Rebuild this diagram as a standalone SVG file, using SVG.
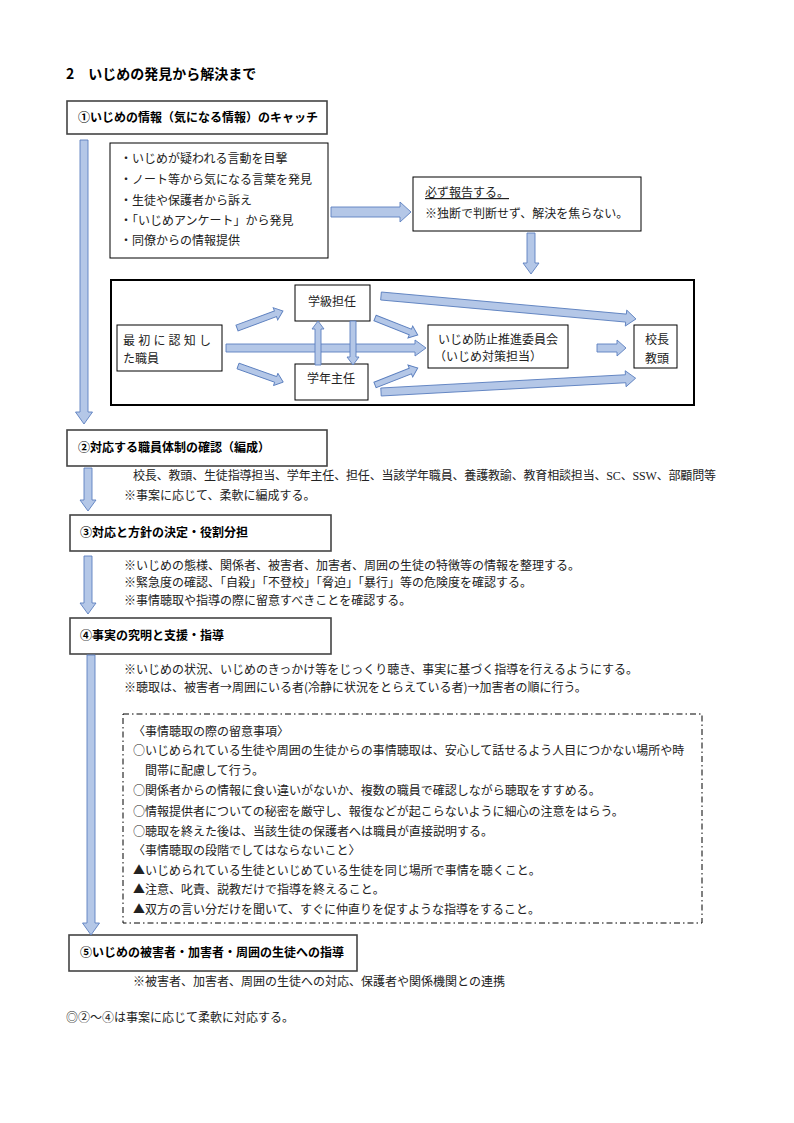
<svg xmlns="http://www.w3.org/2000/svg" width="794" height="1123" viewBox="0 0 794 1123">
<style>
.t{font-family:"Noto Sans CJK JP","Liberation Serif",serif;font-size:12px;fill:#222}
.l{font-family:"Liberation Serif",serif}
.h{font-family:"Noto Sans CJK JP","Liberation Sans",sans-serif;font-size:12px;font-weight:bold;fill:#000}
.hb{fill:#fff;stroke:#444;stroke-width:1.6}
.b{fill:#fff;stroke:#000;stroke-width:1}
.ar{fill:#b4c7e7;stroke:#5b7fbf;stroke-width:0.9}
</style>
<rect width="794" height="1123" fill="#fff"/>
<text class="h" x="66" y="79" style="font-size:14px">2　いじめの発見から解決まで</text>

<g id="n1"><rect class="hb" x="67" y="101" width="260" height="33"/><text class="h" x="78" y="122">①いじめの情報（気になる情報）のキャッチ</text></g>

<g id="list"><rect class="b" x="110" y="143" width="218" height="115"/>
<text class="t" x="120" y="163">・いじめが疑われる言動を目撃</text>
<text class="t" x="120" y="184">・ノート等から気になる言葉を発見</text>
<text class="t" x="120" y="205">・生徒や保護者から訴え</text>
<text class="t" x="120" y="225">・「いじめアンケート」から発見</text>
<text class="t" x="120" y="245">・同僚からの情報提供</text></g>

<g id="report"><rect class="b" x="413" y="177" width="228" height="54"/>
<text class="t" x="425" y="197" text-decoration="underline">必ず報告する。</text>
<text class="t" x="425" y="218">※独断で判断せず、解決を焦らない。</text></g>

<rect x="111" y="280" width="583" height="125" fill="none" stroke="#000" stroke-width="2"/>

<g id="gakkyu"><rect class="b" x="295" y="285" width="75" height="36"/><text class="t" x="332" y="306" text-anchor="middle">学級担任</text></g>
<g id="saisho"><rect class="b" x="117" y="325" width="105" height="46"/><text class="t" x="123" y="345" textLength="88" lengthAdjust="spacing">最初に認知し</text><text class="t" x="123" y="363">た職員</text></g>
<g id="gakunen"><rect class="b" x="295" y="364" width="73" height="36"/><text class="t" x="331" y="383" text-anchor="middle">学年主任</text></g>
<g id="iinkai"><rect class="b" x="428" y="325" width="140" height="43"/><text class="t" x="438" y="344">いじめ防止推進委員会</text><text class="t" x="434" y="361">（いじめ対策担当）</text></g>
<g id="kocho"><rect class="b" x="634" y="325" width="43" height="43"/><text class="t" x="645" y="344">校長</text><text class="t" x="645" y="363">教頭</text></g>

<g id="n2"><rect class="hb" x="67" y="430" width="260" height="36"/><text class="h" x="78" y="452">②対応する職員体制の確認（編成）</text></g>
<text class="t" x="133" y="480" textLength="583" lengthAdjust="spacing">校長、教頭、生徒指導担当、学年主任、担任、当該学年職員、養護教諭、教育相談担当、<tspan class="l">SC</tspan>、<tspan class="l">SSW</tspan>、部顧問等</text>
<text class="t" x="124" y="500">※事案に応じて、柔軟に編成する。</text>

<g id="n3"><rect class="hb" x="70" y="515" width="261" height="36"/><text class="h" x="80" y="537">③対応と方針の決定・役割分担</text></g>
<text class="t" x="124" y="570">※いじめの態様、関係者、被害者、加害者、周囲の生徒の特徴等の情報を整理する。</text>
<text class="t" x="124" y="587">※緊急度の確認、「自殺」「不登校」「脅迫」「暴行」等の危険度を確認する。</text>
<text class="t" x="124" y="605">※事情聴取や指導の際に留意すべきことを確認する。</text>

<g id="n4"><rect class="hb" x="70" y="618" width="261" height="36"/><text class="h" x="80" y="640">④事実の究明と支援・指導</text></g>
<text class="t" x="124" y="674">※いじめの状況、いじめのきっかけ等をじっくり聴き、事実に基づく指導を行えるようにする。</text>
<text class="t" x="124" y="692">※聴取は、被害者→周囲にいる者(冷静に状況をとらえている者)→加害者の順に行う。</text>

<g id="notes"><rect x="123" y="714" width="579" height="209" fill="none" stroke="#000" stroke-width="1" stroke-dasharray="6,3,1.5,3"/>
<text class="t" x="133" y="736">〈事情聴取の際の留意事項〉</text>
<text class="t" x="133" y="755">○いじめられている生徒や周囲の生徒からの事情聴取は、安心して話せるよう人目につかない場所や時</text>
<text class="t" x="133" y="775">　間帯に配慮して行う。</text>
<text class="t" x="133" y="795">○関係者からの情報に食い違いがないか、複数の職員で確認しながら聴取をすすめる。</text>
<text class="t" x="133" y="816">○情報提供者についての秘密を厳守し、報復などが起こらないように細心の注意をはらう。</text>
<text class="t" x="133" y="836">○聴取を終えた後は、当該生徒の保護者へは職員が直接説明する。</text>
<text class="t" x="133" y="855">〈事情聴取の段階でしてはならないこと〉</text>
<text class="t" x="133" y="875">▲いじめられている生徒といじめている生徒を同じ場所で事情を聴くこと。</text>
<text class="t" x="133" y="894">▲注意、叱責、説教だけで指導を終えること。</text>
<text class="t" x="133" y="914">▲双方の言い分だけを聞いて、すぐに仲直りを促すような指導をすること。</text></g>

<g id="n5"><rect class="hb" x="69" y="935" width="288" height="36"/><text class="h" x="80" y="957">⑤いじめの被害者・加害者・周囲の生徒への指導</text></g>
<text class="t" x="133" y="986">※被害者、加害者、周囲の生徒への対応、保護者や関係機関との連携</text>
<text class="t" x="66" y="1022">◎②～④は事案に応じて柔軟に対応する。</text>

<g id="connectors">
<polygon class="ar" transform="translate(84,140) rotate(90)" points="0,-4 272,-4 272,-8.5 284,0 272,8.5 272,4 0,4"/>
<polygon class="ar" transform="translate(331,212)" points="0,-5 69,-5 69,-10 80,0 69,10 69,5 0,5"/>
<polygon class="ar" transform="translate(531,233) rotate(90)" points="0,-4 30,-4 30,-8 41,0 30,8 30,4 0,4"/>
<polygon class="ar" transform="translate(237,328) rotate(-20.3)" points="0,-3 41,-3 41,-6.5 49,0 41,6.5 41,3 0,3"/>
<polygon class="ar" transform="translate(238,366) rotate(19.6)" points="0,-3 40,-3 40,-6.5 48,0 40,6.5 40,3 0,3"/>
<polygon class="ar" transform="translate(226,348)" points="0,-4 189,-4 189,-8 200,0 189,8 189,4 0,4"/>
<polygon class="ar" transform="translate(318,365) rotate(-90)" points="0,-3 36,-3 36,-6 44,0 36,6 36,3 0,3"/>
<polygon class="ar" transform="translate(353,321) rotate(90)" points="0,-3 36,-3 36,-6 44,0 36,6 36,3 0,3"/>
<polygon class="ar" transform="translate(375,318) rotate(21.6)" points="0,-3 38,-3 38,-6.5 46,0 38,6.5 38,3 0,3"/>
<polygon class="ar" transform="translate(375,385) rotate(-21.6)" points="0,-3 38,-3 38,-6.5 46,0 38,6.5 38,3 0,3"/>
<polygon class="ar" transform="translate(381,296) rotate(5.15)" points="0,-4 246,-4 246,-8 256,0 246,8 246,4 0,4"/>
<polygon class="ar" transform="translate(381,392) rotate(-3.1)" points="0,-4 245,-4 245,-8 255,0 245,8 245,4 0,4"/>
<polygon class="ar" transform="translate(597,348)" points="0,-4 20,-4 20,-8 29,0 20,8 20,4 0,4"/>
<polygon class="ar" transform="translate(88,468) rotate(90)" points="0,-4 32,-4 32,-8 43,0 32,8 32,4 0,4"/>
<polygon class="ar" transform="translate(88,556) rotate(90)" points="0,-4 47,-4 47,-8 58,0 47,8 47,4 0,4"/>
<polygon class="ar" transform="translate(91,655) rotate(90)" points="0,-4 268,-4 268,-8.5 280,0 268,8.5 268,4 0,4"/>
</g>
</svg>
